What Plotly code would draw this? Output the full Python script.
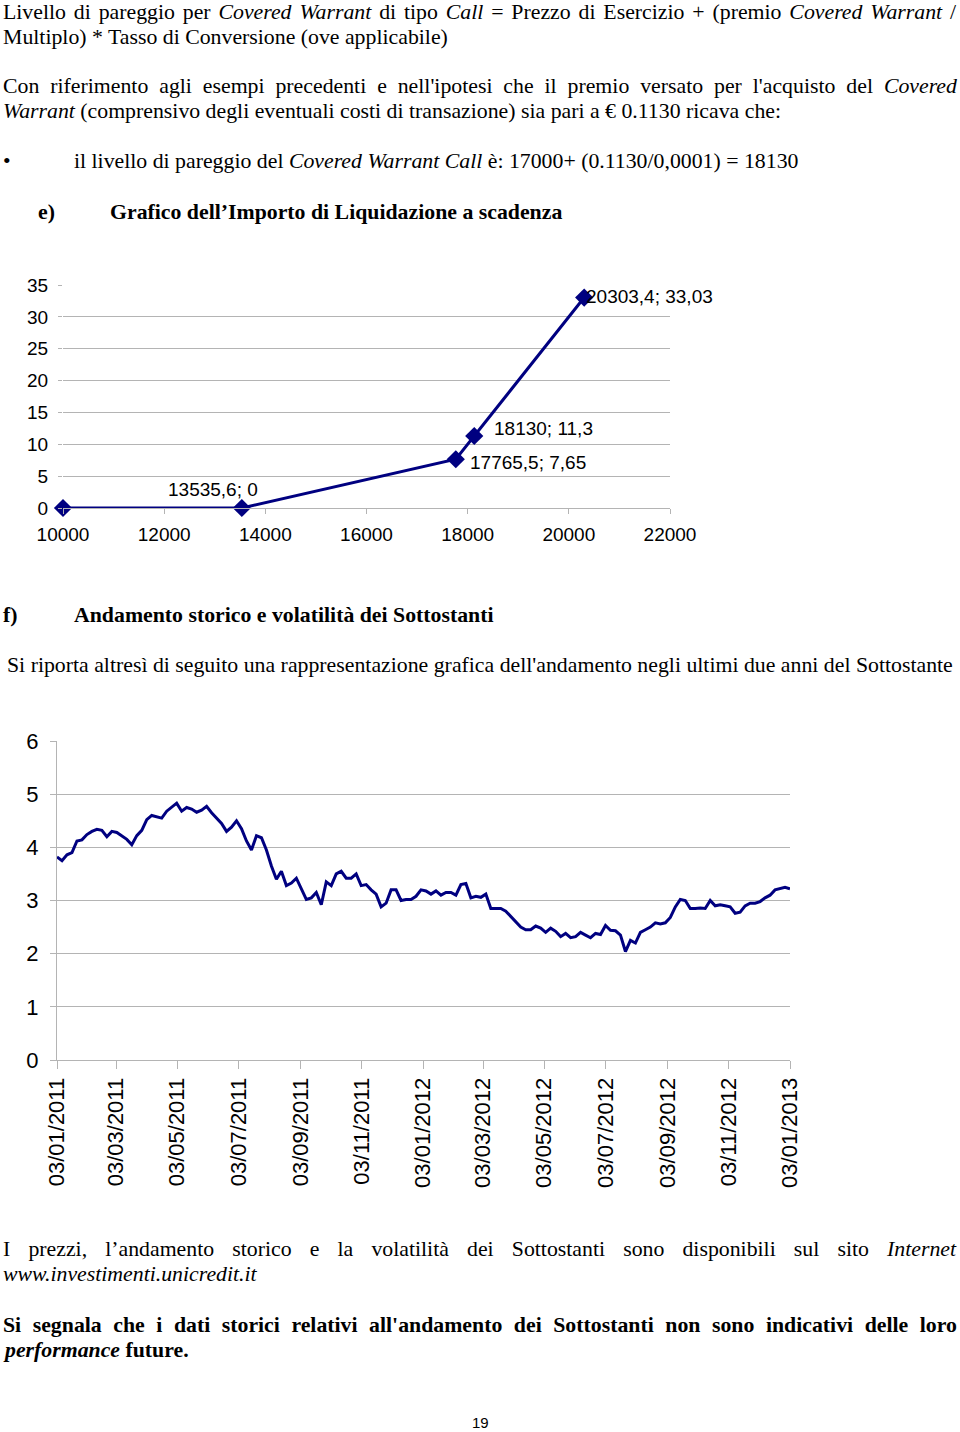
import json
import plotly.graph_objects as go
import pandas as pd

W, H = 960, 1432

# --- chart e) payoff at expiry ---
payoff_x = [10000, 13535.6, 17765.5, 18130, 20303.4]
payoff_y = [0, 0, 7.65, 11.3, 33.03]
payoff_yticks = [0, 5, 10, 15, 20, 25, 30, 35]
payoff_xticks = [10000, 12000, 14000, 16000, 18000, 20000, 22000]

# --- chart f) underlying history, 03/01/2011 - 03/01/2013 (read every ~5 days) ---
hist_start = "2011-01-03"
hist_end = "2013-01-03"
hist_values = [
    3.82, 3.75, 3.86, 3.90, 4.12, 4.14, 4.24, 4.30, 4.34, 4.32,
    4.20, 4.30, 4.28, 4.22, 4.15, 4.05, 4.22, 4.32, 4.52, 4.60,
    4.58, 4.55, 4.68, 4.75, 4.83, 4.68, 4.75, 4.72, 4.66, 4.70,
    4.77, 4.65, 4.55, 4.45, 4.30, 4.38, 4.50, 4.35, 4.12, 3.95,
    4.22, 4.18, 3.95, 3.65, 3.40, 3.55, 3.28, 3.33, 3.42, 3.22,
    3.02, 3.05, 3.15, 2.92, 3.35, 3.28, 3.50, 3.55, 3.42, 3.42,
    3.50, 3.28, 3.30, 3.20, 3.12, 2.88, 2.95, 3.20, 3.20, 3.00,
    3.02, 3.02, 3.08, 3.20, 3.18, 3.12, 3.18, 3.10, 3.15, 3.15,
    3.10, 3.30, 3.32, 3.05, 3.08, 3.06, 3.12, 2.85, 2.85, 2.85,
    2.80, 2.70, 2.58, 2.50, 2.45, 2.45, 2.52, 2.48, 2.40, 2.48,
    2.42, 2.32, 2.38, 2.30, 2.32, 2.40, 2.35, 2.30, 2.38, 2.36,
    2.53, 2.44, 2.43, 2.35, 2.04, 2.25, 2.20, 2.40, 2.45, 2.50,
    2.58, 2.56, 2.58, 2.68, 2.88, 3.02, 3.00, 2.85, 2.85, 2.86,
    2.85, 3.00, 2.90, 2.92, 2.90, 2.88, 2.76, 2.78, 2.90, 2.95,
    2.95, 2.98, 3.05, 3.10, 3.20, 3.22, 3.25, 3.22,
]
hist_yticks = [0, 1, 2, 3, 4, 5, 6]
hist_dates = pd.date_range(hist_start, hist_end, periods=len(hist_values))

NAVY = '#000080'
GRID = '#b4b4b4'
SERIF = 'Liberation Serif'
SANS = 'Liberation Sans'
BODY = 21.8


def py(px):
    """page pixel (from top) -> paper coordinate"""
    return 1 - px / H


def px_x(px):
    return px / W


fig = go.Figure()

fig.add_trace(go.Scatter(
    x=payoff_x, y=payoff_y, mode='lines+markers',
    line=dict(color=NAVY, width=3),
    marker=dict(symbol='diamond', size=14, color=NAVY),
    xaxis='x', yaxis='y', showlegend=False, cliponaxis=False,
))

fig.add_trace(go.Scatter(
    x=hist_dates, y=hist_values, mode='lines',
    line=dict(color=NAVY, width=3),
    xaxis='x2', yaxis='y2', showlegend=False,
))

# point labels on the payoff chart
label_shift = [None, (-29, 19, 'center'), (12, -3, 'left'), (18, 8, 'left'), (0, 1, 'left')]
for xv, yv, sh in zip(payoff_x, payoff_y, label_shift):
    if sh is None:
        continue
    xs = f"{xv:g}".replace('.', ',')
    ys = f"{yv:g}".replace('.', ',')
    fig.add_annotation(
        x=xv, y=yv, xref='x', yref='y', text=f"{xs}; {ys}",
        showarrow=False, xanchor=sh[2], xshift=sh[0], yshift=sh[1],
        font=dict(family=SANS, size=19, color='black'),
    )

# page text; justified lines get stretched to full width in the browser
justify = {}


def txt(x, y, text, size=BODY, family=SERIF, anchor='left', width=None):
    if width:
        justify[str(len(fig.layout.annotations))] = width
    fig.add_annotation(
        x=px_x(x), y=py(y), xref='paper', yref='paper', text=text,
        showarrow=False, xanchor=anchor, yanchor='middle', align='left',
        font=dict(family=family, size=size, color='black'),
    )


txt(1, 12, "Livello di pareggio per <i>Covered Warrant</i> di tipo <i>Call</i> = Prezzo di Esercizio + (premio <i>Covered Warrant</i> /", width=954)
txt(1, 37, "Multiplo) * Tasso di Conversione (ove applicabile)")
txt(1, 86, "Con riferimento agli esempi precedenti e nell'ipotesi che il premio versato per l'acquisto del <i>Covered</i>", width=954)
txt(1, 111, "<i>Warrant</i> (comprensivo degli eventuali costi di transazione) sia pari a € 0.1130 ricava che:")
txt(1, 161, "•")
txt(72, 161, "il livello di pareggio del <i>Covered Warrant Call</i> è: 17000+ (0.1130/0,0001) = 18130")
txt(36, 212, "<b>e)</b>")
txt(108, 212, "<b>Grafico dell’Importo di Liquidazione a scadenza</b>")
txt(1, 615, "<b>f)</b>")
txt(72, 615, "<b>Andamento storico e volatilità dei Sottostanti</b>")
txt(5, 665, "Si riporta altresì di seguito una rappresentazione grafica dell'andamento negli ultimi due anni del Sottostante")
txt(1, 1249, "I prezzi, l’andamento storico e la volatilità dei Sottostanti sono disponibili sul sito <i>Internet</i>", width=954)
txt(1, 1274, "<i>www.investimenti.unicredit.it</i>")
txt(1, 1325, "<b>Si segnala che i dati storici relativi all'andamento dei Sottostanti non sono indicativi delle loro</b>", width=954)
txt(1, 1350, "<b><i>performance</i> future.</b>")
txt(480, 1422, "19", size=15, family=SANS, anchor='center')

fig.update_layout(
    width=W, height=H,
    margin=dict(l=0, r=0, t=0, b=0, autoexpand=False),
    paper_bgcolor='white', plot_bgcolor='white',
    font=dict(family=SANS, color='black'),
    xaxis=dict(
        domain=[px_x(63), px_x(670)], range=[10000, 22000],
        tickvals=payoff_xticks, tickformat='d', ticks='outside', ticklen=5, tickcolor=GRID,
        ticklabelstandoff=4,
        showgrid=False, showline=True, linecolor=GRID, zeroline=False, automargin=False,
        tickfont=dict(family=SANS, size=19), anchor='y',
    ),
    yaxis=dict(
        domain=[py(508), py(285)], range=[0, 35],
        tickvals=payoff_yticks, ticks='outside', ticklen=4, tickcolor=GRID,
        ticklabelstandoff=6,
        showgrid=True, gridcolor=GRID, showline=False, zeroline=False, automargin=False,
        tickfont=dict(family=SANS, size=19), anchor='x',
    ),
    xaxis2=dict(
        domain=[px_x(57), px_x(790)], range=[hist_start, hist_end],
        tick0=hist_start, dtick='M2', tickformat='%d/%m/%Y', tickangle=-90,
        ticks='outside', ticklen=8, tickcolor=GRID,
        showgrid=False, showline=True, linecolor=GRID, zeroline=False, automargin=False,
        tickfont=dict(family=SANS, size=22), anchor='y2',
    ),
    yaxis2=dict(
        domain=[py(1060), py(741)], range=[0, 6],
        tickvals=hist_yticks, ticks='outside', ticklen=6, tickcolor=GRID,
        ticklabelstandoff=7,
        showgrid=True, gridcolor=GRID, showline=True, linecolor=GRID, zeroline=False, automargin=False,
        tickfont=dict(family=SANS, size=22), anchor='x2',
    ),
)

post = """
document.body.style.margin = '0';
var gd = document.getElementById('{plot_id}');
var targets = %s;
function justify() {
  gd.querySelectorAll('g.annotation').forEach(function (g) {
    var idx = g.getAttribute('data-index');
    if (!(idx in targets)) return;
    var t = g.querySelector('text.annotation-text');
    if (!t) return;
    if (t.dataset.tf === undefined) t.dataset.tf = t.getAttribute('transform') || '';
    t.setAttribute('transform', t.dataset.tf);
    t.style.wordSpacing = '0px';
    var b0 = t.getBBox();
    var n = (t.textContent.match(/ /g) || []).length;
    if (!n) return;
    t.style.wordSpacing = ((targets[idx] - b0.width) / n) + 'px';
    var b1 = t.getBBox();
    t.setAttribute('transform', t.dataset.tf + ' translate(' + (b0.x - b1.x) + ',0)');
  });
}
justify();
if (document.fonts) document.fonts.ready.then(justify);
""" % json.dumps(justify)

fig.write_html("out.html", post_script=post, config={'displayModeBar': False})
